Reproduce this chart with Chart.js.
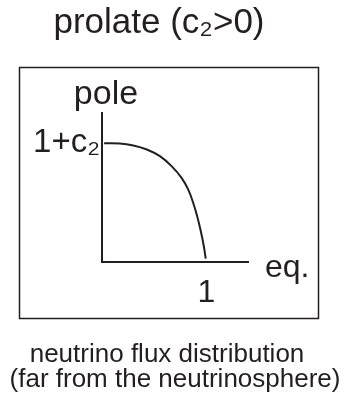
<!DOCTYPE html>
<html><head><meta charset="utf-8">
<script src="https://cdn.jsdelivr.net/npm/chart.js@4/dist/chart.umd.min.js"></script>
<style>html,body{margin:0;padding:0;background:#fff}canvas{display:block}</style>
</head><body>
<canvas id="c" width="346" height="396"></canvas>
<script>
// ---- data ----
const C2 = 0.3;                 // illustrative prolate parameter c2 > 0
const POLE = 1 + C2;            // flux at the pole
const fluxX = [0.02, 0.17, 0.30, 0.43, 0.555, 0.667, 0.763, 0.826, 0.874, 0.912, 0.947, 0.976, 0.995];
const fluxY = [1.30, 1.297, 1.275, 1.231, 1.158, 1.049, 0.921, 0.794, 0.648, 0.503, 0.339, 0.175, 0.036];
const xTickValues = [1];
const xTickLabels = ['1'];
const yTickValues = [POLE];
const yTickLabels = ['1+c₂'];
const titleText = 'prolate (c₂>0)';
const yAxisName = 'pole';
const xAxisName = 'eq.';
const captionLines = ['neutrino flux distribution', '(far from the neutrinosphere)'];

// ---- style ----
const INK = '#231f20';
const FAMILY = "'Liberation Sans', Arial, Helvetica, 'DejaVu Sans', sans-serif";

const annot = {
  id: 'annot',
  afterDraw(chart) {
    const {ctx, chartArea: a} = chart;
    ctx.save();
    ctx.fillStyle = INK;
    ctx.strokeStyle = INK;
    // frame around the diagram
    ctx.lineWidth = 1.5;
    ctx.strokeRect(a.left - 82.5, a.top - 45.5, 299, 251);
    // title
    ctx.textBaseline = 'alphabetic';
    ctx.textAlign = 'center';
    ctx.font = '35px ' + FAMILY;
    ctx.fillText(titleText, 159, 33);
    // axis names
    ctx.font = '34px ' + FAMILY;
    ctx.fillText(yAxisName, a.left + 4, a.top - 9);
    ctx.textAlign = 'left';
    ctx.font = '32px ' + FAMILY;
    ctx.fillText(xAxisName, a.right + 17, a.bottom + 15);
    // caption
    ctx.textAlign = 'center';
    ctx.font = '26px ' + FAMILY;
    ctx.fillText(captionLines[0], 167, 362);
    ctx.fillText(captionLines[1], 175, 387);
    ctx.restore();
  }
};

new Chart(document.getElementById('c'), {
  type: 'scatter',
  data: {
    datasets: [{
      data: fluxX.map((x, i) => ({x, y: fluxY[i]})),
      showLine: true,
      borderColor: INK,
      borderWidth: 2,
      pointRadius: 0,
      tension: 0.4,
      fill: false
    }]
  },
  options: {
    responsive: false,
    animation: false,
    devicePixelRatio: 1,
    layout: {padding: {left: 0, right: 98, top: 113, bottom: 94}},
    plugins: {legend: {display: false}, tooltip: {enabled: false}, title: {display: false}},
    scales: {
      x: {
        type: 'linear', min: 0, max: 1.4,
        grid: {display: false, drawTicks: false},
        border: {display: true, color: INK, width: 2},
        afterBuildTicks: s => { s.ticks = xTickValues.map(v => ({value: v})); },
        afterFit: s => { s.height = 40; },
        ticks: {
          color: INK, padding: 12, maxRotation: 0, autoSkip: false,
          font: {family: FAMILY, size: 32},
          callback: (v, i) => xTickLabels[i]
        }
      },
      y: {
        type: 'linear', min: 0, max: 1.63,
        grid: {display: false, drawTicks: false},
        border: {display: true, color: INK, width: 2},
        afterBuildTicks: s => { s.ticks = yTickValues.map(v => ({value: v})); },
        afterFit: s => { s.width = 102; },
        ticks: {
          color: INK, padding: 2, autoSkip: false,
          font: {family: FAMILY, size: 33},
          callback: (v, i) => yTickLabels[i]
        }
      }
    }
  },
  plugins: [annot]
});
</script>
</body></html>
